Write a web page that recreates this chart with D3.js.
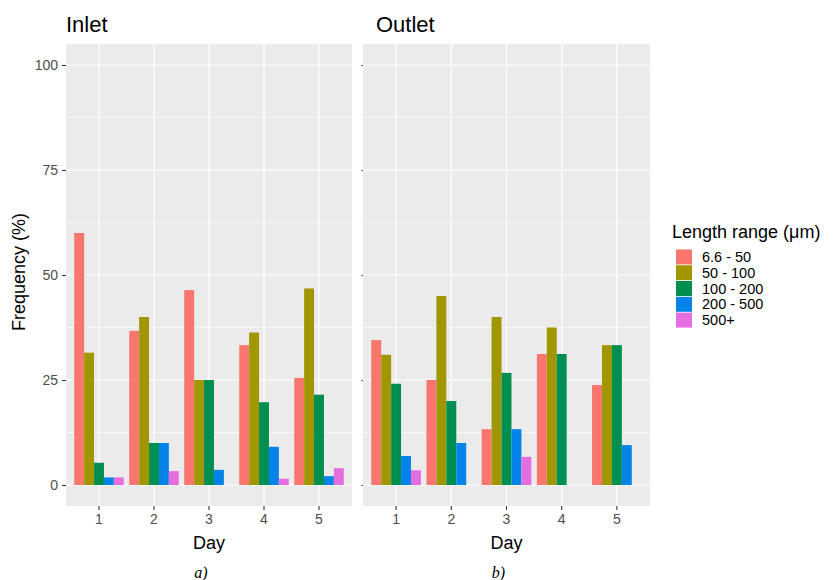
<!DOCTYPE html>
<html>
<head>
<meta charset="utf-8">
<script src="https://cdn.jsdelivr.net/npm/d3@7"></script>
<style>
  html, body { margin: 0; padding: 0; background: #ffffff; }
  svg { display: block; font-family: "Liberation Sans", Arial, sans-serif; }
</style>
</head>
<body>
<svg id="chart" width="833" height="580"></svg>
<script>
// ---- data ----
const days = ["1", "2", "3", "4", "5"];
const ranges = ["6.6 - 50", "50 - 100", "100 - 200", "200 - 500", "500+"];
const colors = ["#F8766D", "#9F9600", "#008F50", "#0483E8", "#E46EE0"];
const yTicks = [0, 25, 50, 75, 100];
const yMinor = [12.5, 37.5, 62.5, 87.5];
const panelNames = ["Inlet", "Outlet"];
const panelCaptions = ["a)", "b)"];
// values per day, ordered as ranges
const inlet = [
  [60.0, 31.5, 5.3, 1.8, 1.8],
  [36.7, 40.0, 10.0, 10.0, 3.3],
  [46.4, 25.0, 25.0, 3.6, 0],
  [33.3, 36.3, 19.7, 9.1, 1.5],
  [25.5, 46.8, 21.5, 2.1, 4.0]
];
const outlet = [
  [34.5, 31.0, 24.1, 6.9, 3.5],
  [25.0, 45.0, 20.0, 10.0, 0],
  [13.3, 40.0, 26.7, 13.3, 6.7],
  [31.2, 37.5, 31.2, 0, 0],
  [23.8, 33.3, 33.3, 9.5, 0]
];
const panelData = [inlet, outlet];

// ---- layout ----
const svg = d3.select("#chart");
const panelTop = 44, panelBottom = 506;
const panels = [{x0: 66, x1: 352}, {x0: 363, x1: 650}];

const y = d3.scaleLinear().domain([-5, 105]).range([panelBottom, panelTop]);
const inner = d3.scaleBand().domain(ranges).paddingInner(0).paddingOuter(0);
const color = d3.scaleOrdinal().domain(ranges).range(colors);

panels.forEach((p, pi) => {
  const x = d3.scaleBand().domain(days).range([p.x0, p.x1])
    .paddingInner(0.1).paddingOuter(0.15);
  inner.range([0, x.bandwidth()]);
  const g = svg.append("g");

  // background
  g.append("rect").attr("x", p.x0).attr("y", panelTop)
    .attr("width", p.x1 - p.x0).attr("height", panelBottom - panelTop)
    .attr("fill", "#EBEBEB");

  // minor gridlines
  g.selectAll(".ymin").data(yMinor).join("line")
    .attr("x1", p.x0).attr("x2", p.x1)
    .attr("y1", d => y(d)).attr("y2", d => y(d))
    .attr("stroke", "#ffffff").attr("stroke-width", 0.6);
  // major gridlines
  g.selectAll(".ymaj").data(yTicks).join("line")
    .attr("x1", p.x0).attr("x2", p.x1)
    .attr("y1", d => y(d)).attr("y2", d => y(d))
    .attr("stroke", "#ffffff").attr("stroke-width", 1.2);
  g.selectAll(".xmaj").data(days).join("line")
    .attr("x1", d => x(d) + x.bandwidth() / 2).attr("x2", d => x(d) + x.bandwidth() / 2)
    .attr("y1", panelTop).attr("y2", panelBottom)
    .attr("stroke", "#ffffff").attr("stroke-width", 1.2);

  // bars
  const data = panelData[pi];
  days.forEach((day, di) => {
    g.selectAll(null).data(ranges.map((r, ri) => ({r, v: data[di][ri]})))
      .join("rect")
      .attr("x", d => x(day) + inner(d.r))
      .attr("width", inner.bandwidth())
      .attr("y", d => y(d.v))
      .attr("height", d => y(0) - y(d.v))
      .attr("fill", d => color(d.r));
  });

  // x axis
  const xAxis = d3.axisBottom(x).tickSize(4).tickPadding(4);
  const xg = g.append("g").attr("transform", `translate(0,${panelBottom})`).call(xAxis);
  xg.select(".domain").remove();
  xg.selectAll(".tick line").attr("stroke", "#333333").attr("stroke-width", 1.1);
  xg.selectAll(".tick text").attr("fill", "#4D4D4D")
    .style("font-size", "14px").style("font-family", "Liberation Sans, Arial, sans-serif");

  // y axis
  const yAxis = d3.axisLeft(y).tickValues(yTicks).tickSize(pi === 0 ? 4 : 1.5).tickPadding(4);
  const yg = g.append("g").attr("transform", `translate(${p.x0},0)`).call(yAxis);
  yg.select(".domain").remove();
  yg.selectAll(".tick line").attr("stroke", "#333333").attr("stroke-width", 1.1);
  if (pi === 0) {
    yg.selectAll(".tick text").attr("fill", "#4D4D4D")
      .style("font-size", "14px").style("font-family", "Liberation Sans, Arial, sans-serif");
  } else {
    yg.selectAll(".tick text").remove();
  }

  // panel title
  svg.append("text").attr("x", pi === 0 ? p.x0 : p.x0 + 13).attr("y", 32)
    .attr("font-size", 22).attr("fill", "#000").text(panelNames[pi]);

  // x title
  const cx = (p.x0 + p.x1) / 2;
  svg.append("text").attr("x", cx).attr("y", 549)
    .attr("text-anchor", "middle").attr("font-size", 18).attr("fill", "#000").text("Day");

  // caption
  svg.append("text").attr("x", cx - 8).attr("y", 578)
    .attr("text-anchor", "middle").attr("font-size", 16)
    .attr("font-style", "italic").attr("font-family", "Liberation Serif, Times New Roman, serif")
    .attr("fill", "#000").text(panelCaptions[pi]);
});

// y title
svg.append("text")
  .attr("transform", "translate(25,272) rotate(-90)")
  .attr("text-anchor", "middle").attr("font-size", 18).attr("fill", "#000")
  .text("Frequency (%)");

// legend
const lg = svg.append("g").attr("transform", "translate(672,0)");
lg.append("text").attr("x", 0).attr("y", 238).attr("font-size", 18).attr("fill", "#000")
  .text("Length range (μm)");
const legendRow = d3.scaleBand().domain(ranges).range([249, 249 + 15.8 * ranges.length]);
lg.selectAll(".key").data(ranges).join("rect")
  .attr("x", 4).attr("y", d => legendRow(d) + 0.4)
  .attr("width", 16).attr("height", legendRow.bandwidth() - 0.8)
  .attr("fill", d => color(d));
lg.selectAll(".lab").data(ranges).join("text")
  .attr("x", 30).attr("y", d => legendRow(d) + legendRow.bandwidth() / 2)
  .attr("dy", "0.35em").attr("font-size", 14.5).attr("fill", "#000")
  .text(d => d);
</script>
</body>
</html>
